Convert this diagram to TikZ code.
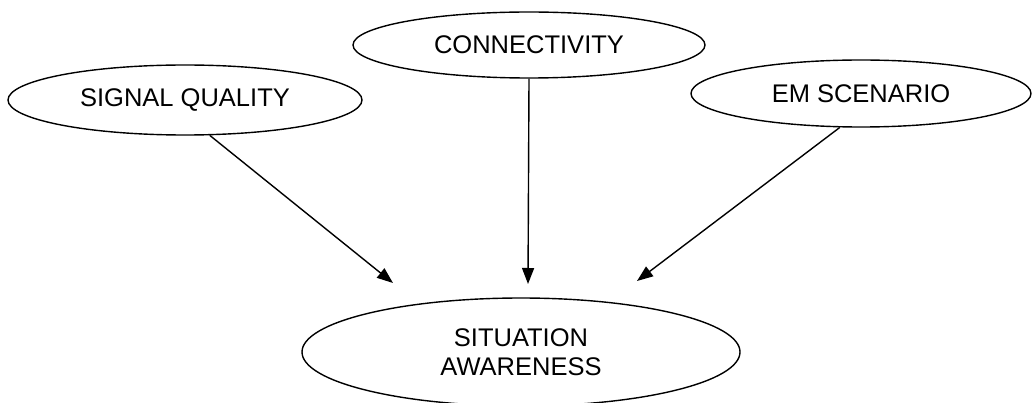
\documentclass[tikz,border=0pt]{standalone}
\usepackage{fontspec}
\setmainfont{Liberation Sans}
\usetikzlibrary{shapes.geometric,arrows.meta}
\begin{document}
\begin{tikzpicture}[x=1pt,y=-1pt,
  bubble/.style={draw=black,line width=1.4pt,ellipse,inner sep=0pt,align=center,
    font=\fontsize{25.5}{29.5}\selectfont},
  link/.style={line width=1.4pt,-{Triangle[length=16pt,width=12pt]}}]
  \useasboundingbox (0,0) rectangle (1032,403);

  % source factors
  \node[bubble,minimum width=354pt,minimum height=70pt] (sq) at (185,100) {SIGNAL QUALITY};
  \node[bubble,minimum width=352pt,minimum height=66pt] (cn) at (529,45) {CONNECTIVITY};
  \node[bubble,minimum width=340pt,minimum height=67pt] (em) at (861,93.5) {EM SCENARIO};

  % resulting state
  \node[bubble,minimum width=438pt,minimum height=108pt] (sa) at (521,352) {SITUATION\\AWARENESS};

  % arrow tips, just above the target ellipse
  \coordinate (tq) at (393,283);
  \coordinate (tc) at (528,284);
  \coordinate (te) at (637,281);

  \draw[link] (sq.-55) -- (tq);
  \draw[link] (cn.south) -- (tc);
  \draw[link] (em.-122) -- (te);
\end{tikzpicture}
\end{document}
